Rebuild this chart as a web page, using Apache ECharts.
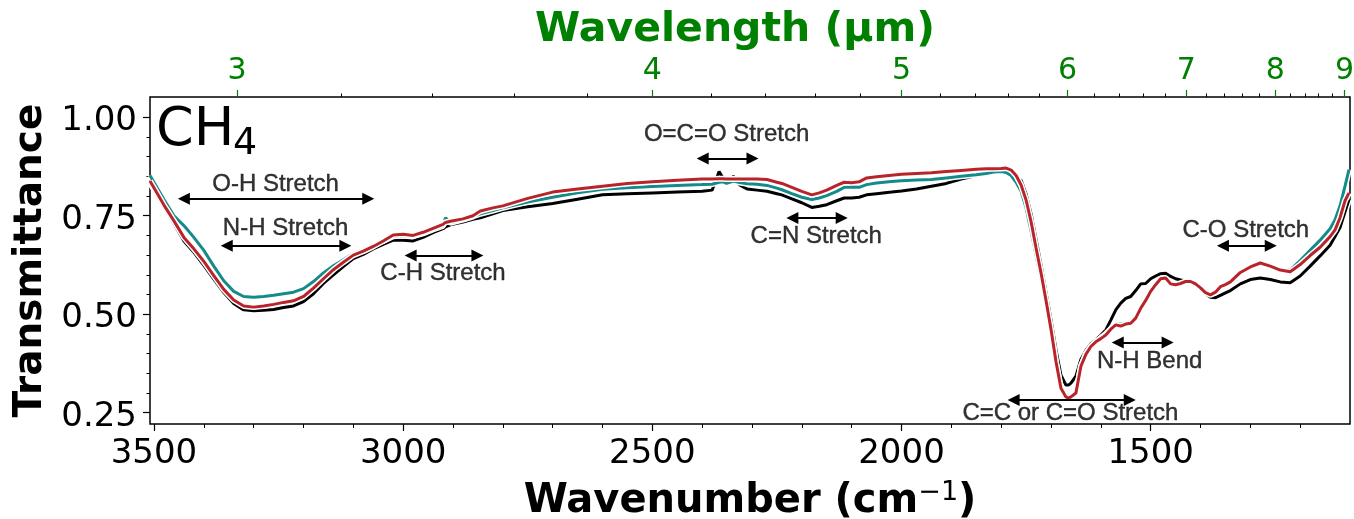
<!DOCTYPE html>
<html>
<head>
<meta charset="utf-8">
<script src="https://cdn.jsdelivr.net/npm/echarts@6/dist/echarts.min.js"></script>
<style>
  html, body { margin: 0; padding: 0; background: #fff; }
  #chart { width: 1354px; height: 519px; }
</style>
</head>
<body>
<div id="chart"></div>
<script>
// wavenumber grid (cm-1), shared by the three spectra
const wavenumbers = [
  3508, 3480, 3460, 3440, 3420, 3400, 3380, 3360, 3340, 3320,
  3300, 3280, 3260, 3240, 3220, 3200, 3180, 3160, 3140, 3120,
  3100, 3080, 3060, 3040, 3020, 3000, 2980, 2960, 2940, 2920,
  2915, 2905, 2880, 2860, 2845, 2820, 2800, 2750, 2700, 2650,
  2600, 2550, 2500, 2450, 2400, 2380, 2366, 2358, 2351, 2337,
  2325, 2310, 2290, 2270, 2250, 2240, 2220, 2200, 2180, 2165,
  2150, 2130, 2115, 2100, 2085, 2070, 2050, 2020, 2000, 1970,
  1940, 1910, 1880, 1850, 1830, 1815, 1800, 1790, 1780, 1770,
  1760, 1750, 1740, 1730, 1720, 1710, 1700, 1690, 1680, 1670,
  1665, 1660, 1650, 1640, 1630, 1620, 1610, 1600, 1590, 1580,
  1570, 1560, 1550, 1540, 1530, 1520, 1510, 1500, 1490, 1480,
  1470, 1460, 1450, 1440, 1430, 1420, 1410, 1400, 1390, 1380,
  1370, 1360, 1350, 1340, 1320, 1300, 1280, 1260, 1240, 1220,
  1200, 1180, 1160, 1140, 1130, 1120, 1110, 1102
];

const transBlack = [
  .834, .773, .730, .686, .657, .624, .589, .555, .527, .511,
  .509, .510, .512, .517, .521, .532, .552, .578, .600, .621,
  .641, .652, .666, .677, .688, .688, .686, .695, .707, .717,
  .722, .727, .734, .741, .745, .755, .763, .773, .781, .792,
  .803, .806, .808, .810, .812, .815, .862, .845, .837, .850,
  .828, .818, .815, .812, .806, .803, .793, .783, .771, .774,
  .778, .788, .795, .795, .797, .803, .806, .810, .813, .818,
  .825, .832, .843, .852, .856, .862, .867, .866, .860, .845,
  .840, .805, .755, .690, .625, .555, .485, .410, .345, .320,
  .320, .325, .343, .385, .408, .425, .435, .447, .460, .485,
  .511, .528, .540, .545, .560, .577, .578, .590, .597, .603,
  .604, .596, .590, .587, .585, .583, .576, .567, .552, .543,
  .542, .548, .554, .560, .577, .588, .592, .588, .582, .580,
  .597, .622, .648, .675, .697, .720, .760, .791
];

const transTeal = [
  .852, .791, .750, .725, .695, .662, .622, .585, .558, .545,
  .543, .545, .548, .552, .556, .565, .583, .605, .623, .638,
  .654, .663, .675, .686, .698, .700, .698, .705, .715, .724,
  .745, .732, .740, .748, .755, .763, .770, .785, .797, .808,
  .817, .821, .824, .827, .829, .830, .835, .836, .832, .838,
  .834, .831, .830, .827, .820, .816, .806, .797, .791, .795,
  .801, .812, .822, .823, .822, .829, .833, .837, .839, .841,
  .842, .846, .850, .854, .857, .861, .862, .860, .852, .835,
  .812, .770, .712, .650, .590, .525, .455, .375, .310, .288,
  .286, .288, .300, .365, .400, .418, .430, .440, .450, .463,
  .475, .475, .478, .480, .490, .512, .535, .555, .572, .588,
  .590, .578, .575, .578, .583, .583, .578, .568, .556, .550,
  .555, .570, .575, .582, .605, .620, .630, .623, .612, .612,
  .636, .662, .688, .717, .740, .775, .825, .867
];

const transRed = [
  .838, .777, .737, .695, .666, .634, .598, .563, .536, .521,
  .518, .521, .525, .530, .534, .545, .566, .590, .613, .632,
  .650, .660, .672, .686, .701, .703, .700, .708, .718, .728,
  .733, .736, .742, .750, .762, .770, .775, .794, .810, .818,
  .825, .832, .836, .840, .843, .843, .844, .844, .843, .843,
  .843, .843, .843, .842, .835, .832, .822, .812, .803, .808,
  .815, .827, .835, .834, .836, .846, .849, .853, .855, .857,
  .859, .862, .865, .868, .869, .869, .870, .871, .866, .852,
  .828, .790, .735, .668, .605, .535, .462, .380, .312, .290,
  .287, .290, .300, .368, .398, .418, .430, .438, .447, .462,
  .473, .470, .475, .477, .490, .515, .535, .558, .575, .590,
  .592, .577, .575, .578, .583, .583, .577, .567, .555, .549,
  .556, .570, .575, .582, .606, .620, .630, .622, .612, .608,
  .626, .649, .670, .697, .714, .745, .788, .808
];

// axis ticks
const wavenumberTicks = [3500, 3000, 2500, 2000, 1500];
const transmittanceTicks = [0.25, 0.50, 0.75, 1.00];
const wavelengthTicks = [3, 4, 5, 6, 7, 8, 9];

// band annotations: arrow span (cm-1) at a transmittance level, label position
const annotations = [
  { text: "O-H Stretch", from: 3440, to: 3070, y: 0.793, tx: 3256, ty: 0.829 },
  { text: "N-H Stretch", from: 3354, to: 3116, y: 0.674, tx: 3236, ty: 0.719 },
  { text: "C-H Stretch", from: 2985, to: 2851, y: 0.649, tx: 2920, ty: 0.604 },
  { text: "O=C=O Stretch", from: 2399, to: 2299, y: 0.895, tx: 2351, ty: 0.956 },
  { text: "C=N Stretch", from: 2219, to: 2120, y: 0.744, tx: 2171, ty: 0.697 },
  { text: "N-H Bend", from: 1566, to: 1466, y: 0.428, tx: 1502, ty: 0.380 },
  { text: "C=C or C=O Stretch", from: 1775, to: 1542, y: 0.282, tx: 1661, ty: 0.249 },
  { text: "C-O Stretch", from: 1355, to: 1259, y: 0.674, tx: 1309, ty: 0.714 }
];

const X_MIN = 1100, X_MAX = 3508;
const Y_MIN = 0.2213, Y_MAX = 1.0514;
const GREEN = "#008000";
const tickFont = "DejaVu Sans";

let chart = echarts.init(document.getElementById("chart"), null, { renderer: "canvas" });

// minor ticks
let minorWn = [];
for (let w = 1200; w <= 3500; w += 100) {
    if (w % 500 !== 0) minorWn.push(w);
}
let minorT = [];
for (let i = 6; i <= 20; i++) {
    if (i % 5 !== 0) minorT.push(i * 0.05);
}
let majorWl = wavelengthTicks.map(l => 10000 / l);
let minorWl = [];
for (let l = 3.2; l < 9; l += 0.2) {
    let r = Math.round(l * 10) / 10;
    if (Math.abs(r - Math.round(r)) > 0.01) minorWl.push(10000 / r);
}

function pairs(values) {
    return wavenumbers.map((w, i) => [w, values[i]]);
}

function spectrum(name, values, color) {
    return [
        {
            name: name + "-halo", type: "line", data: pairs(values),
            showSymbol: false, symbol: "none", silent: true,
            lineStyle: { color: "#fff", width: 6 }
        },
        {
            name: name, type: "line", data: pairs(values),
            showSymbol: false, symbol: "none",
            lineStyle: { color: color, width: 3 }
        }
    ];
}

function baseX(extra) {
    return Object.assign({
        type: "value", min: X_MIN, max: X_MAX, inverse: true,
        gridIndex: 0, axisLine: { show: false },
        splitLine: { show: false }
    }, extra);
}

let option = {
    animation: false,
    backgroundColor: "#fff",
    grid: {
        left: 150, top: 97, width: 1200, height: 327,
        outerBoundsMode: "none", containLabel: false,
        show: true, borderColor: "#000", borderWidth: 1.5,
        backgroundColor: "transparent"
    },
    graphic: [
        {
            type: "text", left: 156, top: 104, z: 100,
            style: { text: "CH", fontSize: 54, fontFamily: tickFont, fill: "#000" }
        },
        {
            type: "text", left: 233, top: 125, z: 100,
            style: { text: "4", fontSize: 38, fontFamily: tickFont, fill: "#000" }
        }
    ],
    xAxis: [
        baseX({
            position: "bottom",
            name: "{a|Wavenumber (cm}{s|−1}{a|)}", nameLocation: "middle", nameGap: 55,
            nameTextStyle: {
                rich: {
                    a: { fontSize: 40, fontWeight: "bold", fontFamily: tickFont, color: "#000", lineHeight: 46 },
                    s: { fontSize: 27, fontFamily: tickFont, color: "#000", verticalAlign: "top", lineHeight: 27 }
                }
            },
            axisTick: { show: true, length: 7, customValues: wavenumberTicks, lineStyle: { color: "#000", width: 1.2 } },
            axisLabel: {
                customValues: wavenumberTicks, fontSize: 34, fontFamily: tickFont, color: "#000", margin: 13,
                formatter: v => String(v)
            }
        }),
        baseX({
            position: "top",
            name: "Wavelength (µm)", nameLocation: "middle", nameGap: 25,
            nameTextStyle: { fontSize: 41, fontWeight: "bold", fontFamily: tickFont, color: GREEN, padding: [0, 30, 0, 0] },
            axisTick: { show: true, length: 7, customValues: majorWl, lineStyle: { color: GREEN, width: 1.2 } },
            axisLabel: {
                customValues: majorWl, fontSize: 30, fontFamily: tickFont, color: GREEN, margin: 11,
                formatter: v => String(Math.round(10000 / v))
            }
        }),
        baseX({
            position: "top",
            axisTick: { show: true, length: 3.5, customValues: minorWl, lineStyle: { color: "#000", width: 1 } },
            axisLabel: { show: false }
        }),
        baseX({
            position: "bottom",
            axisTick: { show: true, length: 4, customValues: minorWn, lineStyle: { color: "#000", width: 1 } },
            axisLabel: { show: false }
        })
    ],
    yAxis: [
        {
            type: "value", min: Y_MIN, max: Y_MAX, position: "left",
            axisLine: { show: false }, splitLine: { show: false },
            name: "Transmittance", nameLocation: "middle", nameGap: 100, nameRotate: 90,
            nameTextStyle: { fontSize: 39, fontWeight: "bold", fontFamily: tickFont, color: "#000" },
            axisTick: { show: true, length: 7, customValues: transmittanceTicks, lineStyle: { color: "#000", width: 1.2 } },
            axisLabel: {
                customValues: transmittanceTicks, margin: 13,
                formatter: v => "{v|" + v.toFixed(2) + "}",
                rich: {
                    v: { fontSize: 34, fontFamily: tickFont, color: "#000", padding: [8, 0, 0, 0] }
                }
            }
        },
        {
            type: "value", min: Y_MIN, max: Y_MAX, position: "left",
            axisLine: { show: false }, splitLine: { show: false },
            axisTick: { show: true, length: 3.5, customValues: minorT, lineStyle: { color: "#000", width: 1 } },
            axisLabel: { show: false }
        }
    ],
    series: [].concat(
        spectrum("black", transBlack, "#000000"),
        spectrum("teal", transTeal, "#138b8b"),
        spectrum("red", transRed, "#b8242a"),
        [{
            name: "annotations", type: "scatter", z: 10,
            symbolSize: 0,
            data: annotations.map(a => ({ value: [a.tx, a.ty], name: a.text })),
            label: {
                show: true, position: "inside", formatter: p => p.name,
                fontSize: 24, fontFamily: "Liberation Sans", color: "#000",
                textBorderColor: "#000", textBorderWidth: 0.4
            },
            markLine: {
                silent: true, animation: false,
                symbol: ["triangle", "triangle"], symbolSize: [12, 12],
                label: { show: false },
                lineStyle: { color: "#000", width: 2, type: "solid" },
                data: annotations.map(a => [
                    { coord: [a.from, a.y] },
                    { coord: [a.to, a.y] }
                ])
            }
        }]
    )
};

chart.setOption(option);
</script>
</body>
</html>
